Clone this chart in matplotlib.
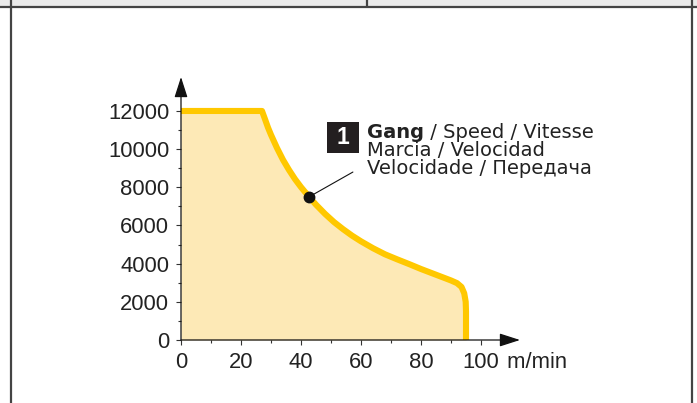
import numpy as np
import matplotlib.pyplot as plt
from matplotlib.lines import Line2D
from matplotlib.patches import Rectangle

plt.rcParams['font.family'] = ['Liberation Sans', 'DejaVu Sans']

# curve (speed m/min, force)
speed = [0, 27, 28, 29, 30, 32, 34, 36, 38, 40, 42.7, 45, 48, 51, 54, 57, 60, 64, 68, 72,
         76, 80, 84, 88, 90, 92, 93.5, 94.4, 94.9, 95, 95]
force = [12000, 12000, 11570, 11130, 10750, 10060, 9440, 8910, 8430, 8010, 7500, 7090,
         6610, 6180, 5810, 5470, 5170, 4810, 4490, 4230, 3980, 3720, 3480, 3240, 3120,
         2980, 2780, 2450, 2000, 1500, 0]
x_ticks = [0, 20, 40, 60, 80, 100]
y_ticks = [0, 2000, 4000, 6000, 8000, 10000, 12000]
marker_pt = (42.7, 7500)
label_lines = ["Marcia / Velocidad", "Velocidade / Передача"]

W, H = 697, 403
fig = plt.figure(figsize=(W / 100, H / 100), dpi=100)

# page frame
fig.add_artist(Rectangle((0, 1 - 6 / H), 1, 6 / H, transform=fig.transFigure,
                         color='#ebebeb', lw=0))
for xs, ys in [([11 / W, 11 / W], [0, 1]), ([692 / W, 692 / W], [0, 1]),
               ([0, 1], [1 - 6.5 / H, 1 - 6.5 / H]), ([367 / W, 367 / W], [1 - 6 / H, 1])]:
    fig.add_artist(Line2D(xs, ys, transform=fig.transFigure, color='#444444', lw=1.6))

ax = fig.add_axes([181 / W, 63 / H, 339 / W, 263 / H])
ax.set_xlim(0, 113)
ax.set_ylim(0, 13780)

yellow = '#ffc800'
ax.fill_between(speed, force, 0, color='#fde9b6', lw=0)
ax.plot(speed, force, color=yellow, lw=4.4, solid_capstyle='butt', solid_joinstyle='round')

for s in ['top', 'right', 'left', 'bottom']:
    ax.spines[s].set_visible(False)
axc = '#333333'
for xy in [(1, 0), (0, 1)]:
    ax.annotate('', xy=xy, xytext=(0, 0), xycoords='axes fraction',
                arrowprops=dict(arrowstyle='-|>,head_length=1.4,head_width=0.45',
                                mutation_scale=9, color='#111111', lw=0.9,
                                shrinkA=0, shrinkB=0))

ax.set_xticks(x_ticks)
ax.set_yticks(y_ticks)
ax.set_xticks(np.arange(0, 100, 10), minor=True)
ax.set_yticks(np.arange(0, 12001, 1000), minor=True)
ax.tick_params(which='major', length=3.5, width=0.8, color=axc, labelsize=15.8,
               labelcolor='#222222', pad=5)
ax.tick_params(which='minor', length=2.5, width=0.8, color=axc)

# unit next to the last x tick label
fig.canvas.draw()
last = ax.get_xticklabels()[-1]
ax.annotate(' m/min', xy=(1, 0), xycoords=last, xytext=(1.5, 0),
            textcoords='offset points', ha='left', va='bottom', fontsize=15.8,
            color='#222222')

# marker and label
ax.plot(*marker_pt, 'o', color='#111111', ms=7.5, zorder=5)
ax.annotate('', xy=marker_pt, xytext=(57.3, 8800),
            arrowprops=dict(arrowstyle='-', color='#111111', lw=0.8, shrinkA=0, shrinkB=0))
ax.add_patch(Rectangle((48.7, 9800), 10.6, 1625, fc='#231f20', ec='none'))
ax.text(54, 10612, '1', ha='center', va='center', color='white', fontsize=16.5,
        fontweight='bold')
lab = dict(fontsize=14, color='#222222', family=['DejaVu Sans'])
t = ax.text(62, 10585, 'Gang', fontweight='bold', ha='left', va='baseline', **lab)
ax.annotate(' / Speed / Vitesse', xycoords=t, xy=(1, 0), va='bottom', ha='left', **lab)
ax.text(62, 9642, label_lines[0], ha='left', va='baseline', **lab)
ax.text(62, 8699, label_lines[1], ha='left', va='baseline', **lab)

fig.savefig('out.png', dpi=100)
